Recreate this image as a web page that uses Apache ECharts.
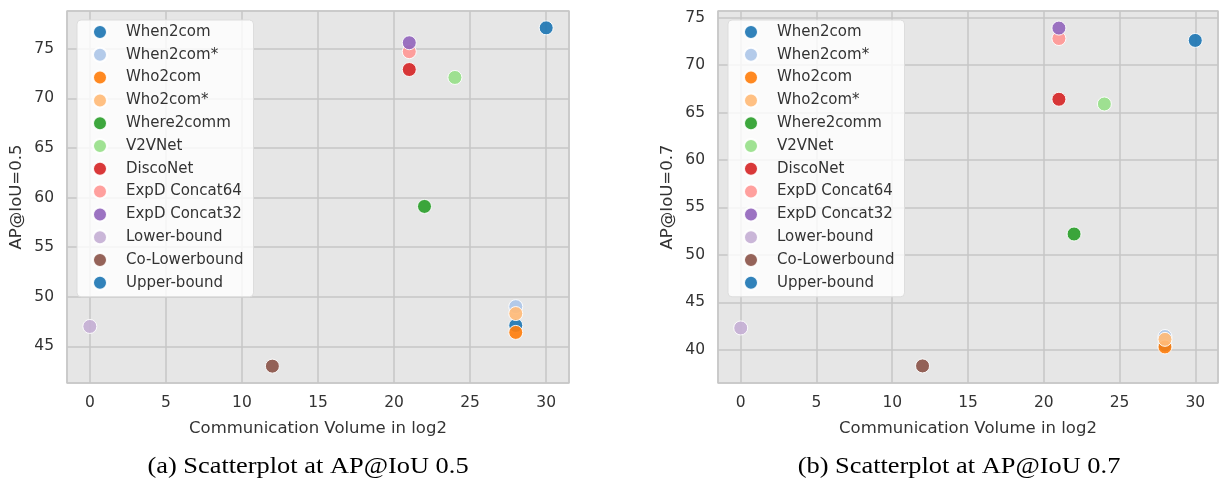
<!DOCTYPE html>
<html>
<head>
<meta charset="utf-8">
<script src="https://cdn.jsdelivr.net/npm/echarts@6/dist/echarts.min.js"></script>
<style>
  html, body { margin: 0; padding: 0; background: #fff; }
  #chart { width: 1221px; height: 483px; }
</style>
</head>
<body>
<div id="chart"></div>
<script>
// methods, in legend order
const methods = ['When2com', 'When2com*', 'Who2com', 'Who2com*', 'Where2comm', 'V2VNet',
  'DiscoNet', 'ExpD Concat64', 'ExpD Concat32', 'Lower-bound', 'Co-Lowerbound', 'Upper-bound'];
const colors = ['#1f77b4', '#aec7e8', '#ff7f0e', '#ffbb78', '#2ca02c', '#98df8a',
  '#d62728', '#ff9896', '#9467bd', '#c5b0d5', '#8c564b', '#1f77b4'];

// communication volume (log2)
const volume = [28, 28, 28, 28, 22, 24, 21, 21, 21, 0, 12, 30];
// AP@IoU=0.5
const ap50 = [47.1, 49.0, 46.4, 48.3, 59.1, 72.1, 72.9, 74.7, 75.6, 47.0, 43.0, 77.1];
// AP@IoU=0.7
const ap70 = [40.5, 41.4, 40.3, 41.1, 52.2, 65.9, 66.4, 72.8, 73.9, 42.3, 38.3, 72.6];

const captions = ['(a) Scatterplot at AP@IoU 0.5', '(b) Scatterplot at AP@IoU 0.7'];

const tickFmt = v => (Math.abs(v % 5) < 1e-9 ? String(v) : '');
const font = 'DejaVu Sans';

function makeAxes(gridIndex, yName, yMin, yMax) {
    const x = {
        gridIndex: gridIndex,
        type: 'value',
        min: -1.5, max: 31.5, splitNumber: 6,
        name: 'Communication Volume in log2',
        nameLocation: 'middle', nameGap: 37,
        nameTextStyle: {fontFamily: font, fontSize: 16.5, color: '#333', verticalAlign: 'top'},
        axisLine: {show: false}, axisTick: {show: false},
        axisLabel: {formatter: tickFmt, fontFamily: font, fontSize: 15.5, color: '#333', margin: 12},
        splitLine: {lineStyle: {color: '#c6c6c6', width: 1.5}}
    };
    const y = {
        gridIndex: gridIndex,
        type: 'value',
        min: yMin, max: yMax, splitNumber: 7,
        name: yName,
        nameLocation: 'middle', nameGap: 42,
        nameTextStyle: {fontFamily: font, fontSize: 16.5, color: '#333'},
        axisLine: {show: false}, axisTick: {show: false},
        axisLabel: {formatter: tickFmt, fontFamily: font, fontSize: 15.5, color: '#333', margin: 13},
        splitLine: {lineStyle: {color: '#c6c6c6', width: 1.5}}
    };
    return [x, y];
}

function makeSeries(idx, values) {
    return methods.map((m, i) => ({
        name: m,
        type: 'scatter',
        xAxisIndex: idx, yAxisIndex: idx,
        symbolSize: 14,
        itemStyle: {color: colors[i], opacity: 0.92, borderColor: '#fff', borderWidth: 1},
        data: [[volume[i], values[i]]]
    }));
}

function makeLegend(left) {
    return {
        orient: 'vertical',
        left: left, top: 20,
        data: methods,
        icon: 'circle',
        itemWidth: 14, itemHeight: 14, itemGap: 6.8,
        padding: [4, 10, 6, 15],
        backgroundColor: 'rgba(255,255,255,0.82)',
        borderColor: '#dddddd', borderWidth: 1, borderRadius: 4,
        selectedMode: false,
        textStyle: {fontFamily: font, fontSize: 15, color: '#333', padding: [0, 0, 0, 14]}
    };
}

function caption(text, cx) {
    return {
        type: 'text', x: cx, y: 467, scaleX: 1.1,
        style: {text: text, fontFamily: 'Liberation Serif', fontSize: 24, fill: '#000',
            textAlign: 'center', textVerticalAlign: 'middle'}
    };
}

const ax1 = makeAxes(0, 'AP@IoU=0.5', 41.3, 78.8);
const ax2 = makeAxes(1, 'AP@IoU=0.7', 36.5, 75.7);

const chart = echarts.init(document.getElementById('chart'));
chart.setOption({
    animation: false,
    color: colors,
    graphic: [caption(captions[0], 308), caption(captions[1], 959)],
    grid: [
        {left: 67, right: 652, top: 11, bottom: 100, show: true,
            backgroundColor: '#e6e6e6', borderColor: '#d0d0d0', borderWidth: 1.5},
        {left: 718, right: 2, top: 11, bottom: 100, show: true,
            backgroundColor: '#e6e6e6', borderColor: '#d0d0d0', borderWidth: 1.5}
    ],
    legend: [makeLegend(77), makeLegend(728)],
    xAxis: [ax1[0], ax2[0]],
    yAxis: [ax1[1], ax2[1]],
    series: makeSeries(0, ap50).concat(makeSeries(1, ap70))
});
</script>
</body>
</html>
